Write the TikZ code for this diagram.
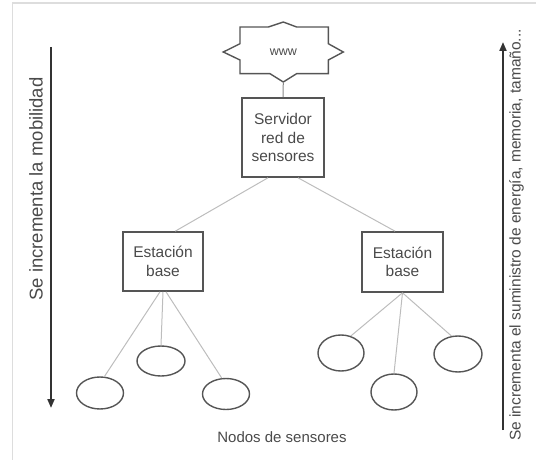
\documentclass[tikz,border=0pt]{standalone}
\usepackage{fontspec}
\setmainfont{Liberation Sans}
\usetikzlibrary{arrows.meta,shapes.geometric,calc}
\definecolor{txtgray}{HTML}{4A4A4A}
\definecolor{boxgray}{HTML}{555555}
\definecolor{linkgray}{HTML}{BDBDBD}
\definecolor{arrgray}{HTML}{333333}
\definecolor{framegray}{HTML}{DDDDDD}
\begin{document}
\begin{tikzpicture}[x=1pt,y=-1pt,
  boxnode/.style={draw=boxgray,line width=1.6pt,text=txtgray,align=center,
    inner sep=0pt,font=\fontsize{15.5}{18.5}\selectfont},
  sensor/.style={draw=boxgray,line width=1.4pt,ellipse,inner sep=0pt},
  link/.style={draw=linkgray,line width=1pt},
  bigarrow/.style={draw=arrgray,line width=2pt,-{Triangle[length=9pt,width=7pt]}},
  sidelabel/.style={text=txtgray,rotate=90,inner sep=0pt}]
\useasboundingbox (0,0) rectangle (536,460);
% frame
\draw[framegray,line width=1.5pt] (12.5,460) -- (12.5,3) -- (536,3);
% www cloud
\node[minimum width=120pt,minimum height=60pt,inner sep=0pt,text=txtgray,
  font=\fontsize{12.5}{14}\selectfont] (www) at (283.3,52) {www};
\draw[boxgray,line width=1.4pt,line join=miter]
  ($(www.center)+(0,-30)$) -- ($(www.center)+(13.3,-25)$) -- ($(www.center)+(45,-25)$)
  -- ($(www.center)+(45,-8.3)$) -- ($(www.center)+(60,0)$) -- ($(www.center)+(45,8)$)
  -- ($(www.center)+(45,21.7)$) -- ($(www.center)+(13.3,21.7)$) -- ($(www.center)+(0,30)$)
  -- ($(www.center)+(-13.3,21.7)$) -- ($(www.center)+(-43.3,21.7)$) -- ($(www.center)+(-43.3,8)$)
  -- ($(www.center)+(-60,0)$) -- ($(www.center)+(-43.3,-8.3)$) -- ($(www.center)+(-43.3,-25)$)
  -- ($(www.center)+(-15,-25)$) -- cycle;
% server
\node[boxnode,minimum width=82pt,minimum height=79pt] (srv) at (283,137.5)
  {Servidor\\red de\\sensores};
% stations
\node[boxnode,minimum width=80pt,minimum height=59pt] (st1) at (163,261.5) {Estación\\base};
\node[boxnode,minimum width=81pt,minimum height=60pt] (st2) at (402.5,262) {Estación\\base};
% sensors
\node[sensor,minimum width=47pt,minimum height=32pt] (e1) at (100,393) {};
\node[sensor,minimum width=48pt,minimum height=30pt] (e2) at (161,361) {};
\node[sensor,minimum width=47pt,minimum height=31pt] (e3) at (226,394) {};
\node[sensor,minimum width=46pt,minimum height=36pt] (e4) at (341,353) {};
\node[sensor,minimum width=46pt,minimum height=36pt] (e5) at (394,392) {};
\node[sensor,minimum width=48pt,minimum height=36pt] (e6) at (458,354) {};
% connectors
\draw[boxgray!70,line width=1pt] (www.south) -- (srv.north);
\draw[link] ($(srv.south west)!0.32!(srv.south east)$) -- ($(st1.north west)!0.65!(st1.north east)$);
\draw[link] ($(srv.south west)!0.68!(srv.south east)$) -- ($(st2.north west)!0.41!(st2.north east)$);
\draw[link] ($(st1.south)+(-3,0)$) -- (e1.75);
\draw[link] (st1.south) -- (e2.north);
\draw[link] ($(st1.south)+(3,0)$) -- (e3.105);
\draw[link] (st2.south) -- (e4.60);
\draw[link] (st2.south) -- (e5.north);
\draw[link] (st2.south) -- (e6.110);
% labels
\node[text=txtgray,inner sep=0pt,font=\fontsize{15}{18}\selectfont] (nodos) at (282,437) {Nodos de sensores};
\coordinate (la1) at (51,47);
\coordinate (la2) at (51,408);
\draw[bigarrow] (la1) -- (la2);
\node[sidelabel,font=\fontsize{18.5}{22}\selectfont] (lmob) at (36,189) {Se incrementa la mobilidad};
\coordinate (ra1) at (503,430);
\coordinate (ra2) at (503,42);
\draw[bigarrow] (ra1) -- (ra2);
\node[sidelabel,font=\fontsize{15.5}{18}\selectfont] (rsum) at (516.5,235) {Se incrementa el suministro de energía, memoria, tamaño...};
\end{tikzpicture}
\end{document}
